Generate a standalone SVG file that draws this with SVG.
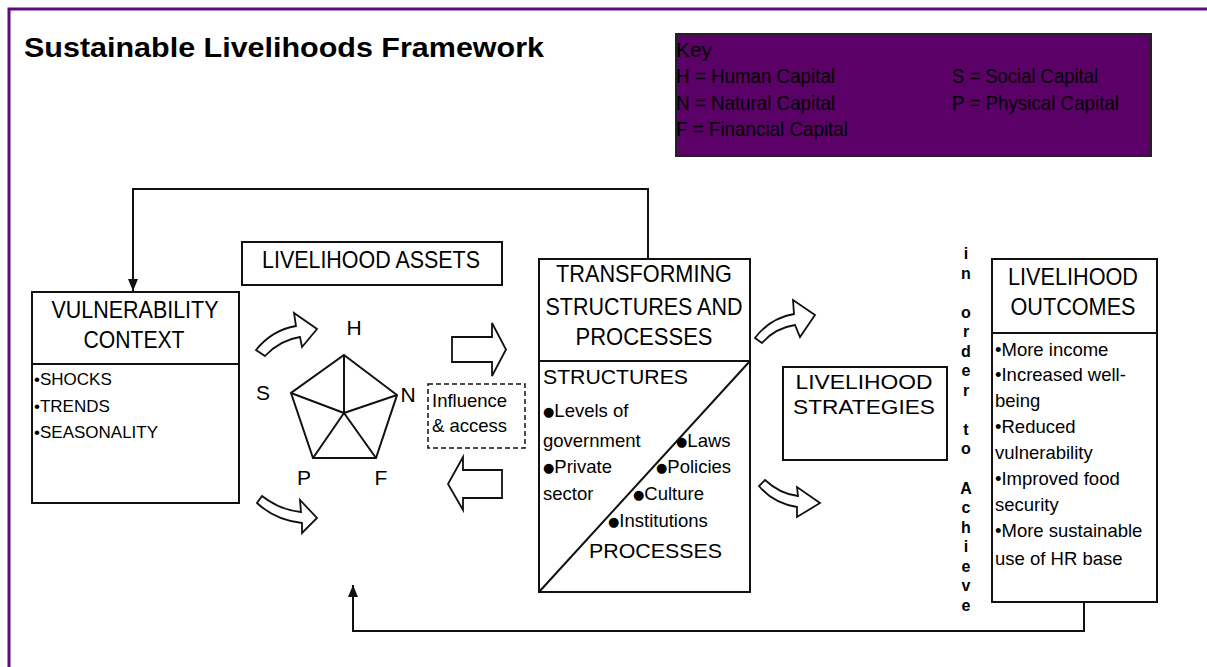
<svg xmlns="http://www.w3.org/2000/svg" width="1207" height="667" viewBox="0 0 1207 667">
<style>
text{font-family:"Liberation Sans",Arial,sans-serif;fill:#000}
.box{fill:#fff;stroke:#111;stroke-width:2}
.ln{fill:none;stroke:#111;stroke-width:2}
.h{font-size:24px}
.hs{font-size:21px}
.h2{font-size:21px}
.b{font-size:18.5px}
.v{font-size:17px}
.vt{font-size:16px;font-weight:bold}
.k{font-size:20px}
.dot{font-family:"DejaVu Sans",sans-serif;font-size:13px;baseline-shift:1px}
.lt{font-size:21px}
.blk{fill:#fff;stroke:#111;stroke-width:1.8;stroke-linejoin:miter}
</style>
<defs>
<marker id="ah" viewBox="0 0 12 10" refX="12" refY="5" markerWidth="12" markerHeight="10" orient="auto" markerUnits="userSpaceOnUse"><path d="M0,0 L12,5 L0,10 Z" fill="#111"/></marker>
</defs>
<rect x="0" y="0" width="1207" height="667" fill="#fff"/>
<rect x="9" y="9" width="1215" height="680" fill="none" stroke="#5a0f78" stroke-width="3"/>
<text x="24" y="57" font-size="27" font-weight="bold" textLength="520" lengthAdjust="spacingAndGlyphs">Sustainable Livelihoods Framework</text>

<g id="key">
<rect x="676" y="34" width="475" height="122" fill="#5a0066" stroke="#222" stroke-width="2"/>
<text class="k" x="676" y="57" textLength="36" lengthAdjust="spacingAndGlyphs">Key</text>
<text class="k" x="676" y="83" textLength="159" lengthAdjust="spacingAndGlyphs">H = Human Capital</text>
<text class="k" x="676" y="110" textLength="159" lengthAdjust="spacingAndGlyphs">N = Natural Capital</text>
<text class="k" x="676" y="136" textLength="172" lengthAdjust="spacingAndGlyphs">F = Financial Capital</text>
<text class="k" x="952" y="83" textLength="146" lengthAdjust="spacingAndGlyphs">S = Social Capital</text>
<text class="k" x="952" y="110" textLength="167" lengthAdjust="spacingAndGlyphs">P = Physical Capital</text>
</g>

<g id="connectors">
<polyline class="ln" points="648,259 648,189 133,189 133,291" marker-end="url(#ah)"/>
<polyline class="ln" points="1084,602 1084,631 353,631 353,585" marker-end="url(#ah)"/>
<path class="blk" d="M256,350 Q272,330 296,326 L294,313 L317,329 L302,347 L300,337 Q280,340 265,356 Z"/>
<path class="blk" d="M262,496 Q280,510 301,512 L300,500 L317,518 L302,533 L302,523 Q275,520 257,503 Z"/>
<polygon class="blk" points="452,337 492,337 492,323 506,349.5 492,376 492,362 452,362"/>
<polygon class="blk" points="502,470 463,470 463,457 448,484 463,510 463,498 502,498"/>
<path class="blk" d="M755,338 Q770,318 794,314 L793,300 L815,315 L800,337 L795,325 Q775,328 762,343 Z"/>
<path class="blk" d="M765,480 Q780,494 798,496 L797,487 L820,503 L797,517 L797,507 Q773,503 759,486 Z"/>
</g>

<g id="vulnerability-context">
<rect class="box" x="32" y="292" width="207" height="211"/>
<line class="ln" x1="32" y1="364" x2="239" y2="364"/>
<text class="h" x="135" y="318" text-anchor="middle" textLength="167" lengthAdjust="spacingAndGlyphs">VULNERABILITY</text>
<text class="h" x="134" y="348" text-anchor="middle" textLength="101" lengthAdjust="spacingAndGlyphs">CONTEXT</text>
<text class="v" x="34" y="385">•SHOCKS</text>
<text class="v" x="34" y="412">•TRENDS</text>
<text class="v" x="34" y="438">•SEASONALITY</text>
</g>

<g id="livelihood-assets">
<rect class="box" x="242" y="242" width="260" height="43"/>
<text class="h" x="371" y="268" text-anchor="middle" textLength="218" lengthAdjust="spacingAndGlyphs">LIVELIHOOD ASSETS</text>
</g>

<g id="asset-pentagon">
<polygon class="ln" points="344,355 397,395 376,458 313,458 291,393"/>
<path class="ln" d="M344,413 L344,355 M344,413 L397,395 M344,413 L376,458 M344,413 L313,458 M344,413 L291,393"/>
<text class="lt" x="354" y="335" text-anchor="middle">H</text>
<text class="lt" x="263" y="400" text-anchor="middle">S</text>
<text class="lt" x="408" y="402" text-anchor="middle">N</text>
<text class="lt" x="304" y="485" text-anchor="middle">P</text>
<text class="lt" x="381" y="485" text-anchor="middle">F</text>
</g>

<g id="influence-access">
<rect x="428" y="384" width="97" height="64" fill="#fff" stroke="#111" stroke-width="1.5" stroke-dasharray="5,3"/>
<text class="b" x="432" y="407">Influence</text>
<text class="b" x="432" y="432">&amp; access</text>
</g>

<g id="transforming-structures">
<rect class="box" x="539" y="259" width="211" height="333"/>
<line class="ln" x1="539" y1="361" x2="750" y2="361"/>
<line class="ln" x1="539" y1="592" x2="750" y2="361" stroke-width="1.5"/>
<text class="h" x="644" y="282" text-anchor="middle" textLength="176" lengthAdjust="spacingAndGlyphs">TRANSFORMING</text>
<text class="h" x="644" y="315" text-anchor="middle" textLength="197" lengthAdjust="spacingAndGlyphs">STRUCTURES AND</text>
<text class="h" x="644" y="345" text-anchor="middle" textLength="137" lengthAdjust="spacingAndGlyphs">PROCESSES</text>
<text class="h2" x="543" y="384" textLength="145" lengthAdjust="spacingAndGlyphs">STRUCTURES</text>
<text class="b" x="543" y="417"><tspan class="dot">●</tspan>Levels of</text>
<text class="b" x="543" y="447">government</text>
<text class="b" x="543" y="473"><tspan class="dot">●</tspan>Private</text>
<text class="b" x="543" y="500">sector</text>
<text class="b" x="676" y="447"><tspan class="dot">●</tspan>Laws</text>
<text class="b" x="656" y="473"><tspan class="dot">●</tspan>Policies</text>
<text class="b" x="633" y="500"><tspan class="dot">●</tspan>Culture</text>
<text class="b" x="608" y="527"><tspan class="dot">●</tspan>Institutions</text>
<text class="h2" x="589" y="558" textLength="133" lengthAdjust="spacingAndGlyphs">PROCESSES</text>
</g>

<g id="livelihood-strategies">
<rect class="box" x="783" y="367" width="164" height="93"/>
<text class="hs" x="864" y="389" text-anchor="middle" textLength="137" lengthAdjust="spacingAndGlyphs">LIVELIHOOD</text>
<text class="hs" x="864" y="414" text-anchor="middle" textLength="142" lengthAdjust="spacingAndGlyphs">STRATEGIES</text>
</g>

<g id="in-order-to-achieve">
<text class="vt" text-anchor="middle"><tspan x="966" y="259">i</tspan><tspan x="966" y="279">n</tspan><tspan x="966" y="318">o</tspan><tspan x="966" y="337">r</tspan><tspan x="966" y="357">d</tspan><tspan x="966" y="376">e</tspan><tspan x="966" y="396">r</tspan><tspan x="966" y="435">t</tspan><tspan x="966" y="454">o</tspan><tspan x="966" y="494">A</tspan><tspan x="966" y="513">c</tspan><tspan x="966" y="533">h</tspan><tspan x="966" y="552">i</tspan><tspan x="966" y="572">e</tspan><tspan x="966" y="591">v</tspan><tspan x="966" y="611">e</tspan></text>
</g>

<g id="livelihood-outcomes">
<rect class="box" x="992" y="259" width="165" height="343"/>
<line class="ln" x1="992" y1="333" x2="1157" y2="333"/>
<text class="h" x="1073" y="285" text-anchor="middle" textLength="130" lengthAdjust="spacingAndGlyphs">LIVELIHOOD</text>
<text class="h" x="1073" y="315" text-anchor="middle" textLength="125" lengthAdjust="spacingAndGlyphs">OUTCOMES</text>
<text class="b" x="995" y="356">•More income</text>
<text class="b" x="995" y="381">•Increased well-</text>
<text class="b" x="995" y="407">being</text>
<text class="b" x="995" y="433">•Reduced</text>
<text class="b" x="995" y="459">vulnerability</text>
<text class="b" x="995" y="485">•Improved food</text>
<text class="b" x="995" y="511">security</text>
<text class="b" x="995" y="537">•More sustainable</text>
<text class="b" x="995" y="565">use of HR base</text>
</g>
</svg>
